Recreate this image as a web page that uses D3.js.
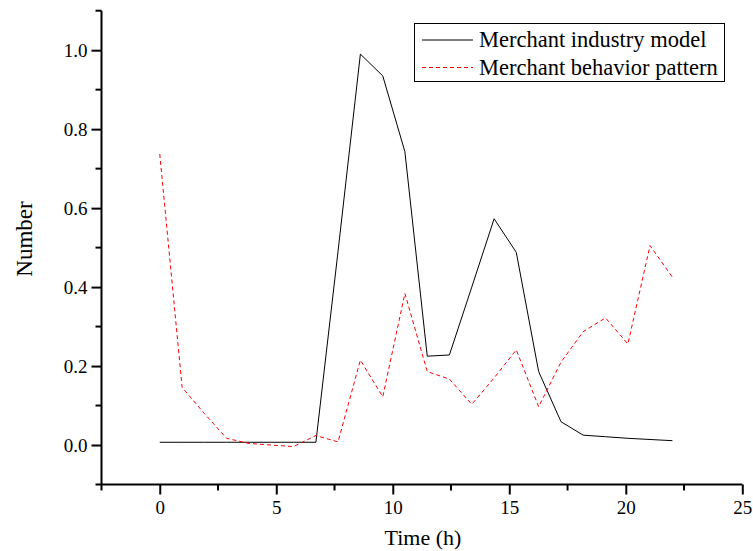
<!DOCTYPE html>
<html><head><meta charset="utf-8">
<script src="https://cdn.jsdelivr.net/npm/d3@7"></script>
<style>body{margin:0;background:#fff}svg{display:block}svg text{font-family:'Liberation Serif',serif}</style>
</head><body>
<script>
const timeH = [0, 0.96, 1.91, 2.87, 3.83, 4.78, 5.74, 6.70, 7.65, 8.61, 9.57, 10.52, 11.48, 12.43, 13.39, 14.35, 15.30, 16.26, 17.22, 18.17, 19.13, 20.09, 21.04, 22.00];
const industryModel = [0.007, 0.007, 0.007, 0.007, 0.007, 0.007, 0.007, 0.007, 0.49, 0.99, 0.935, 0.743, 0.225, 0.228, 0.40, 0.573, 0.488, 0.186, 0.059, 0.025, 0.021, 0.017, 0.014, 0.011];
const behaviorPattern = [0.737, 0.146, 0.08, 0.017, 0.004, 0.0, -0.004, 0.024, 0.008, 0.215, 0.122, 0.384, 0.186, 0.167, 0.103, 0.17, 0.241, 0.097, 0.21, 0.287, 0.322, 0.256, 0.505, 0.425];
const seriesNames = ["Merchant industry model", "Merchant behavior pattern"];
const xTicks = [0, 5, 10, 15, 20, 25];
const yTicks = [0.0, 0.2, 0.4, 0.6, 0.8, 1.0];

const W = 753, H = 551;
const svg = d3.select("body").append("svg").attr("width", W).attr("height", H);
const font = "'Liberation Serif', serif";

const x = d3.scaleLinear().domain([-2.5, 25]).range([101.5, 742.3]);
const y = d3.scaleLinear().domain([-0.1, 1.1]).range([484.5, 10.7]);

const xMinor = d3.range(-2.5, 25.01, 2.5).filter(v => Math.abs(v % 5) > 0.01);
const yMinor = d3.range(-0.1, 1.101, 0.2);

const gx = svg.append("g").attr("transform", `translate(0,${y(-0.1)})`);
gx.call(d3.axisBottom(x).tickValues(xTicks).tickSize(10).tickPadding(6).tickFormat(d3.format("d")));
gx.selectAll(".minor").data(xMinor).enter().append("line")
  .attr("x1", d => x(d)).attr("x2", d => x(d)).attr("y1", 0).attr("y2", 6)
  .attr("stroke", "#000").attr("stroke-width", 2);

const gy = svg.append("g").attr("transform", `translate(${x(-2.5)},0)`);
gy.call(d3.axisLeft(y).tickValues(yTicks).tickSize(10).tickPadding(4).tickFormat(d3.format(".1f")));
gy.selectAll(".minor").data(yMinor).enter().append("line")
  .attr("x1", 0).attr("x2", -6).attr("y1", d => y(d)).attr("y2", d => y(d))
  .attr("stroke", "#000").attr("stroke-width", 2);

[gx, gy].forEach(g => {
  g.attr("font-family", font);
  g.select(".domain").remove();
  g.selectAll(".tick line").attr("stroke-width", 2);
  g.selectAll("text").attr("font-family", font).attr("font-size", 19).attr("fill", "#000");
});
svg.append("line").attr("x1", x(-2.5)).attr("x2", x(25)).attr("y1", y(-0.1)).attr("y2", y(-0.1)).attr("stroke", "#000").attr("stroke-width", 2);
svg.append("line").attr("x1", x(-2.5)).attr("x2", x(-2.5)).attr("y1", y(-0.1)).attr("y2", y(1.1)).attr("stroke", "#000").attr("stroke-width", 2);

svg.append("text").attr("x", 423).attr("y", 545).attr("text-anchor", "middle")
  .attr("font-family", font).attr("font-size", 22).text("Time (h)");
svg.append("text").attr("transform", "translate(32,239) rotate(-90)").attr("text-anchor", "middle")
  .attr("font-family", font).attr("font-size", 23).text("Number");

const line = vals => d3.line().x((d, i) => x(timeH[i])).y(d => y(d))(vals);
svg.append("path").attr("d", line(industryModel)).attr("fill", "none").attr("stroke", "#000").attr("stroke-width", 1);
svg.append("path").attr("d", line(behaviorPattern)).attr("fill", "none").attr("stroke", "#ff0000").attr("stroke-width", 1).attr("stroke-dasharray", "4,3");

const lg = svg.append("g");
lg.append("rect").attr("x", 414.5).attr("y", 23.5).attr("width", 310).attr("height", 58).attr("fill", "#fff").attr("stroke", "#000").attr("stroke-width", 1);
const styles = [{c: "#000", d: null}, {c: "#ff0000", d: "4,3"}];
seriesNames.forEach((n, i) => {
  const yy = 40 + i * 27.5;
  lg.append("line").attr("x1", 422).attr("x2", 473).attr("y1", yy).attr("y2", yy)
    .attr("stroke", styles[i].c).attr("stroke-width", 1).attr("stroke-dasharray", styles[i].d);
  lg.append("text").attr("x", 479).attr("y", yy + 7).attr("font-family", font).attr("font-size", 22.5).text(n);
});
</script>
</body></html>
